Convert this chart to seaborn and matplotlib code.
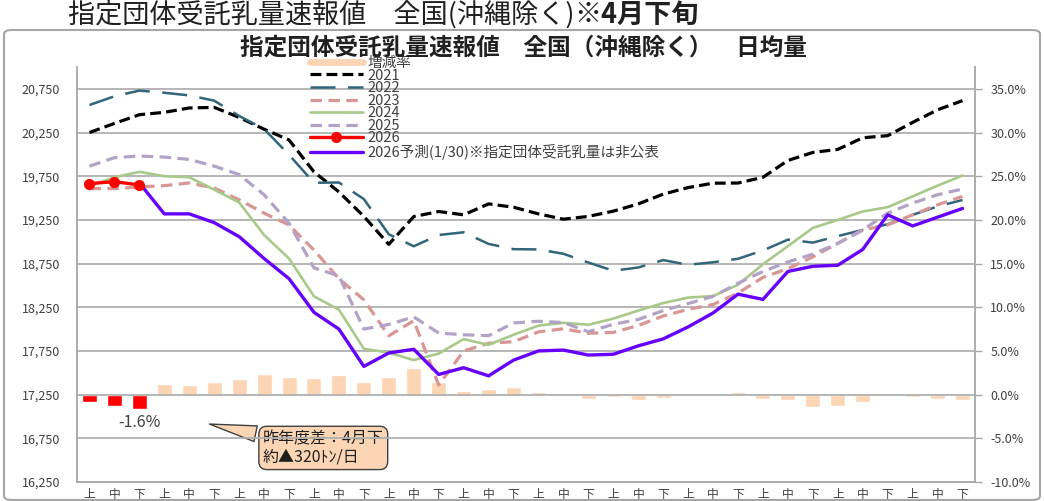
import numpy as np
import pandas as pd
import matplotlib
matplotlib.use('Agg')
import matplotlib.pyplot as plt
from matplotlib.lines import Line2D
from matplotlib.patches import FancyBboxPatch
import seaborn as sns

# 上中下 x 12 months (Apr - Mar)
periods = ['上', '中', '下'] * 12
pos = np.arange(36)

v2021 = [20250, 20354, 20454, 20481, 20531, 20538, 20423, 20288, 20165, 19800, 19570, 19290,
         18970, 19288, 19346, 19308, 19433, 19395, 19319, 19258, 19290, 19350, 19433, 19545,
         19620, 19670, 19672, 19738, 19930, 20022, 20057, 20190, 20214, 20366, 20510, 20615]
v2022 = [20565, 20665, 20730, 20705, 20675, 20615, 20440, 20290, 19995, 19675, 19678, 19488,
         19085, 18948, 19077, 19108, 18975, 18915, 18912, 18862, 18762, 18668, 18705, 18790,
         18736, 18765, 18805, 18900, 19024, 18990, 19065, 19135, 19200, 19308, 19404, 19478]
v2023 = [19608, 19608, 19627, 19642, 19673, 19615, 19481, 19327, 19192, 18905, 18577, 18335,
         17923, 18096, 17360, 17750, 17838, 17856, 17968, 18004, 17952, 17962, 18042, 18150,
         18226, 18282, 18412, 18592, 18692, 18827, 18981, 19135, 19192, 19308, 19423, 19519]
v2024 = [19635, 19738, 19800, 19750, 19738, 19596, 19450, 19077, 18808, 18375, 18223, 17775,
         17730, 17645, 17720, 17885, 17820, 17935, 18040, 18072, 18050, 18120, 18212, 18298,
         18361, 18378, 18508, 18743, 18950, 19158, 19250, 19346, 19396, 19519, 19642, 19758]
v2025 = [19865, 19962, 19981, 19969, 19942, 19865, 19769, 19538, 19212, 18700, 18610, 18000,
         18053, 18140, 17955, 17935, 17925, 18070, 18090, 18075, 17970, 18055, 18110, 18212,
         18292, 18375, 18525, 18660, 18769, 18858, 18981, 19135, 19327, 19442, 19538, 19604]
v2026 = [19665, 19688, 19650]
# forecast starts at 4月下 (index 2)
pred_start = 2
v_pred = [19673, 19319, 19319, 19219, 19058, 18808, 18577, 18192, 18000, 17573, 17727, 17769,
          17481, 17558, 17465, 17645, 17750, 17760, 17703, 17712, 17808, 17888, 18025, 18185,
          18400, 18340, 18660, 18719, 18731, 18912, 19308, 19181, 19281, 19381]
# 増減率 (%)
pct = [-0.9, -1.3, -1.6, 1.21, 1.13, 1.5, 1.78, 2.35, 1.97, 1.88, 2.21, 1.45,
       2.02, 3.05, 1.45, 0.46, 0.69, 0.86, 0.34, -0.05, -0.5, -0.23, -0.6, -0.38,
       -0.15, 0.04, 0.27, -0.5, -0.6, -1.45, -1.33, -0.8, -0.15, -0.23, -0.5, -0.6]

peach = '#fcd5b5'
grey = '#a6a6a6'
txt = '#404040'

sns.set_style('white')
plt.rcParams['font.family'] = ['Noto Sans CJK JP', 'DejaVu Sans']

fig = plt.figure(figsize=(10.44, 5.01), dpi=100)
W, H = 1044, 501

# outer rounded frame
fig.patches.append(FancyBboxPatch((4 / W, 0.002), 1036 / W, 470 / H,
                                  boxstyle='round,pad=0,rounding_size=0.008',
                                  transform=fig.transFigure, fc='none', ec=grey, lw=1.5))

ax = fig.add_axes([77 / W, 19 / H, 898 / W, 415 / H])
ax2 = ax.twinx()
ax.set_zorder(ax2.get_zorder() + 1)
ax.patch.set_visible(False)

# bars: 増減率
bar_df = pd.DataFrame({'pos': pos, 'pct': pct, 'grp': ['2026'] * 3 + ['past'] * 33})
sns.barplot(data=bar_df, x='pos', y='pct', hue='grp', palette={'2026': '#ff0000', 'past': peach},
            dodge=False, width=0.6, saturation=1, legend=False, ax=ax2)

# lines
series = [
    ('2021', v2021, '#000000', (0, (3.4, 1.6)), 2.3),
    ('2022', v2022, '#31657a', (0, (10, 5)), 1.8),
    ('2023', v2023, '#d99694', (0, (3.6, 2)), 2.3),
    ('2024', v2024, '#a9c98a', '-', 1.9),
    ('2025', v2025, '#b3a2c7', (0, (3.6, 2)), 2.3),
]
handles = [Line2D([], [], color=peach, lw=5, label='増減率')]
for name, vals, col, ls, lw in series:
    sns.lineplot(x=pos, y=vals, color=col, linestyle=ls, lw=lw, ax=ax, legend=False)
    handles.append(Line2D([], [], color=col, linestyle=ls, lw=lw, label=name))

sns.lineplot(x=pos[:len(v2026)], y=v2026, color='#ff0000', lw=2.4, marker='o', markersize=8,
             markeredgewidth=0, ax=ax, legend=False, zorder=5)
handles.append(Line2D([], [], color='#ff0000', lw=2.4, marker='o', markersize=8,
                      markeredgewidth=0, label='2026'))
sns.lineplot(x=pos[pred_start:], y=v_pred, color='#6600ff', lw=2.4, ax=ax, legend=False, zorder=4)
handles.append(Line2D([], [], color='#6600ff', lw=2.4, label='2026予測(1/30)※指定団体受託乳量は非公表'))

# axes styling
ax.set_xlim(-0.5, 35.5)
ax.set_ylim(16250, 21000)
yt = np.arange(16250, 20751, 500)
ax.set_yticks(yt)
ax.set_yticklabels([f'{v:,}' for v in yt], fontsize=9, color=txt)
ax.set_xticks(pos)
ax.set_xticklabels(periods, fontsize=8.5, color=txt)
ax.set_xticks(np.arange(-0.5, 36, 1), minor=True)
ax.tick_params(axis='x', which='major', length=0, pad=4)
ax.tick_params(axis='x', which='minor', length=14, width=1, color='#808080')
ax.tick_params(axis='y', length=0, pad=12)
ax.yaxis.grid(True, color='#b0b0b0', lw=1.3)
ax.set_axisbelow(True)
ax.set_xlabel('')
ax.set_ylabel('')
for s in ['top', 'right']:
    ax.spines[s].set_visible(False)
for s in ['left', 'bottom']:
    ax.spines[s].set_color(grey)
    ax.spines[s].set_linewidth(1.3)

ax2.set_ylim(-10, 37.5)
pt = np.arange(-10, 35.1, 5)
ax2.set_yticks(pt)
ax2.set_yticklabels([f'{v:.1f}%' for v in pt], fontsize=9, color=txt)
ax2.tick_params(axis='y', length=5, width=1, color=grey, pad=6)
ax2.set_ylabel('')
for s in ['top', 'left', 'bottom']:
    ax2.spines[s].set_visible(False)
ax2.spines['right'].set_color(grey)
ax2.spines['right'].set_linewidth(1.3)

# legend (rows packed tightly as in the original)
ax.legend(handles=handles, loc='upper left', bbox_to_anchor=(310 / W, 1 - 56 / H),
          bbox_transform=fig.transFigure, frameon=False, fontsize=10.5, labelspacing=-0.1,
          handlelength=3.6, handletextpad=0.35, borderpad=0, borderaxespad=0,
          labelcolor=txt)

# annotations
ax2.text(2, -3.2, '-1.6%', ha='center', va='center', fontsize=11.5, color=txt)
ax2.annotate('昨年度差：4月下\n約▲320ﾄﾝ/日', xy=(4.7, -3.3), xytext=(6.95, -6.1),
             textcoords='data', ha='left', va='center', fontsize=11.5, color='#202020',
             linespacing=1.1,
             bbox=dict(boxstyle='round,pad=0.25,rounding_size=0.5', fc=peach, ec=txt, lw=1),
             arrowprops=dict(arrowstyle='wedge,tail_width=1.0,shrink_factor=0.5',
                             fc=peach, ec=txt, lw=1))

# titles
fig.text(523 / W, 1 - 48 / H, '指定団体受託乳量速報値　全国（沖縄除く）　日均量',
         ha='center', va='center', fontsize=17, fontweight='bold', color='#202020')
t1 = fig.text(68 / W, 1 - 15 / H, '指定団体受託乳量速報値　全国(沖縄除く)',
              ha='left', va='center', fontsize=19.5, color='#202020')
fig.canvas.draw()
bb = t1.get_window_extent()
fig.text(bb.x1 / W, 1 - 15 / H, '※4月下旬', ha='left', va='center', fontsize=19.5,
         fontweight='bold', color='#202020')

fig.savefig('out.png', dpi=100)
